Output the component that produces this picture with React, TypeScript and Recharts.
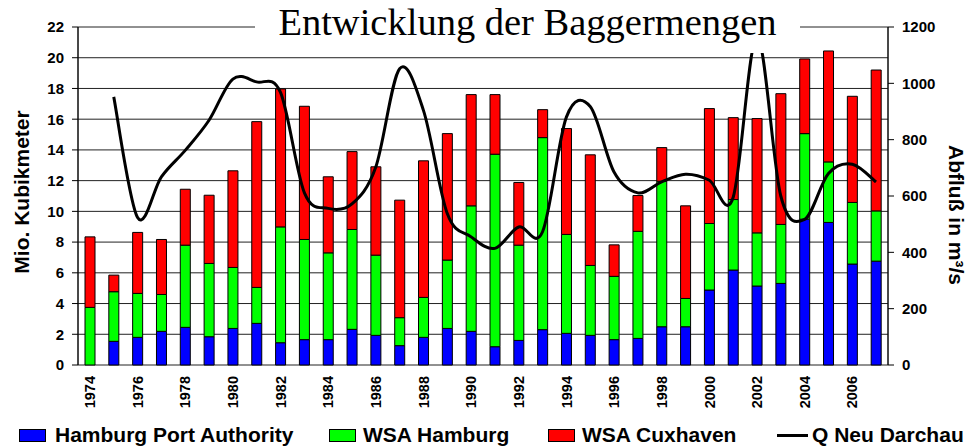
import React from "react"
import { Bar, CartesianGrid, ComposedChart, Legend, Line, XAxis, YAxis } from "recharts"

// Baggermengen in Mio. m³ (Anteile je Dienststelle), Abfluss Neu Darchau in m³/s
const years = [
    "1974", "1975", "1976", "1977", "1978", "1979", "1980", "1981", "1982", "1983", "1984",
    "1985", "1986", "1987", "1988", "1989", "1990", "1991", "1992", "1993", "1994", "1995",
    "1996", "1997", "1998", "1999", "2000", "2001", "2002", "2003", "2004", "2005", "2006", "2007",
]
const hpa = [
    0, 1.54, 1.8, 2.19, 2.45, 1.84, 2.38, 2.71, 1.45, 1.65, 1.65,
    2.32, 1.93, 1.26, 1.8, 2.38, 2.19, 1.19, 1.6, 2.3, 2.06, 1.93,
    1.65, 1.73, 2.49, 2.49, 4.88, 6.18, 5.14, 5.31, 9.49, 9.28, 6.57, 6.76,
]
const wsaHamburg = [
    3.75, 3.23, 2.86, 2.4, 5.35, 4.77, 3.97, 2.34, 7.54, 6.52, 5.65,
    6.5, 5.22, 1.82, 2.6, 4.45, 8.17, 12.53, 6.2, 12.5, 6.44, 4.55,
    4.12, 6.97, 9.47, 1.84, 4.33, 4.59, 3.46, 3.84, 5.57, 3.94, 4.01, 3.27,
]
const wsaCuxhaven = [
    4.59, 1.08, 3.97, 3.58, 3.64, 4.44, 6.29, 10.79, 8.98, 8.67, 4.95,
    5.07, 5.75, 7.65, 8.89, 8.23, 7.24, 3.88, 4.08, 1.82, 6.89, 7.2,
    2.05, 2.33, 2.19, 6.03, 7.48, 5.33, 7.44, 8.51, 4.86, 7.22, 6.91, 9.17,
]
const qNeuDarchau = [
    null, 952, 524, 668, 762, 869, 1015, 1005, 968, 612, 556,
    572, 703, 1052, 904, 538, 455, 414, 490, 473, 880, 918,
    685, 611, 650, 677, 656, 595, 1165, 600, 517, 680, 713, 650,
]

const leftTicks = [0, 2, 4, 6, 8, 10, 12, 14, 16, 18, 20, 22]
const rightTicks = [0, 200, 400, 600, 800, 1000, 1200]

const data = years.map((year, i) => ({
    year,
    hpa: hpa[i],
    wsaHamburg: wsaHamburg[i],
    wsaCuxhaven: wsaCuxhaven[i],
    q: qNeuDarchau[i],
}))

// grid axis: one tick on every category border, like the Excel original
const gridTicks = years.map((_, i) => i).concat(years.length)

const W = 977
const H = 448
const FONT = '"Liberation Sans", Arial, sans-serif'

// Excel-style smoothed line (Catmull-Rom)
function smoothCurve(context: any) {
    let pts: number[][] = []
    return {
        areaStart() {},
        areaEnd() {},
        lineStart() {
            pts = []
        },
        point(x: number, y: number) {
            pts.push([+x, +y])
        },
        lineEnd() {
            const n = pts.length
            if (!n) return
            context.moveTo(pts[0][0], pts[0][1])
            for (let i = 0; i < n - 1; i++) {
                const p0 = pts[i - 1] || pts[i]
                const p1 = pts[i]
                const p2 = pts[i + 1]
                const p3 = pts[i + 2] || p2
                context.bezierCurveTo(
                    p1[0] + (p2[0] - p0[0]) / 6,
                    p1[1] + (p2[1] - p0[1]) / 6,
                    p2[0] - (p3[0] - p1[0]) / 6,
                    p2[1] - (p3[1] - p1[1]) / 6,
                    p2[0],
                    p2[1]
                )
            }
        },
    }
}

function YearTick({ x, y, payload }: any) {
    return (
        <text
            x={x}
            y={y + 3}
            transform={`rotate(-90 ${x} ${y + 3})`}
            textAnchor="end"
            dy="0.36em"
            fontSize={14.5}
            fontWeight="bold"
            fontFamily={FONT}
            fill="#000"
        >
            {payload.value}
        </text>
    )
}

const legendItems = [
    { label: "Hamburg Port Authority", color: "#0000ff", left: 19, textLeft: 55 },
    { label: "WSA Hamburg", color: "#00ff00", left: 329, textLeft: 363 },
    { label: "WSA Cuxhaven", color: "#ff0000", left: 548, textLeft: 582 },
    { label: "Q Neu Darchau", color: null, left: 777, textLeft: 812 },
]

function LegendContent() {
    return (
        <div style={{ position: "relative", width: W, height: 24, fontFamily: FONT, fontWeight: "bold", fontSize: 21, color: "#000" }}>
            {legendItems.map((item) => (
                <React.Fragment key={item.label}>
                    {item.color ? (
                        <div
                            style={{
                                position: "absolute",
                                left: item.left,
                                top: 7,
                                width: 25,
                                height: 11,
                                background: item.color,
                                border: "1px solid #000",
                            }}
                        />
                    ) : (
                        <div style={{ position: "absolute", left: item.left, top: 12, width: 31, height: 3, background: "#000" }} />
                    )}
                    <div style={{ position: "absolute", left: item.textLeft, top: 1, lineHeight: "24px", whiteSpace: "nowrap" }}>
                        {item.label}
                    </div>
                </React.Fragment>
            ))}
        </div>
    )
}

const tickStyle = { fontSize: 15, fontWeight: "bold", fill: "#000", fontFamily: FONT }

export default function App() {
    return (
        <div style={{ position: "absolute", left: 0, top: 0, width: W, height: H, background: "#fff", fontFamily: FONT }}>
            <ComposedChart width={W} height={H} data={data} margin={{ top: 27, right: 0, bottom: 2, left: 0 }}>
                <XAxis
                    xAxisId="grid"
                    type="number"
                    domain={[0, years.length]}
                    ticks={gridTicks}
                    height={0}
                    tick={false}
                    tickSize={5}
                    axisLine={{ stroke: "#000" }}
                    tickLine={{ stroke: "#000" }}
                    allowDataOverflow
                />
                <XAxis
                    xAxisId="cat"
                    dataKey="year"
                    height={57}
                    axisLine={false}
                    tickLine={false}
                    interval={1}
                    tick={<YearTick />}
                />
                <YAxis
                    yAxisId="left"
                    domain={[0, 22]}
                    ticks={leftTicks}
                    width={78}
                    tickSize={6}
                    tickMargin={8}
                    axisLine={{ stroke: "#000" }}
                    tickLine={{ stroke: "#000" }}
                    tick={tickStyle}
                    label={{
                        content: () => (
                            <text
                                x={21}
                                y={192}
                                transform="rotate(-90 21 192)"
                                textAnchor="middle"
                                dy="0.36em"
                                fontSize={21}
                                fontWeight="bold"
                                fontFamily={FONT}
                                fill="#000"
                            >
                                Mio. Kubikmeter
                            </text>
                        ),
                    }}
                />
                <YAxis
                    yAxisId="right"
                    orientation="right"
                    domain={[0, 1200]}
                    ticks={rightTicks}
                    width={89}
                    tickSize={6}
                    tickMargin={8}
                    axisLine={{ stroke: "#000" }}
                    tickLine={{ stroke: "#000" }}
                    tick={tickStyle}
                    label={{
                        content: () => (
                            <text
                                x={957}
                                y={215}
                                transform="rotate(90 957 215)"
                                textAnchor="middle"
                                dy="0.36em"
                                fontSize={21}
                                fontWeight="bold"
                                fontFamily={FONT}
                                fill="#000"
                            >
                                Abfluß in m³/s
                            </text>
                        ),
                    }}
                />
                <CartesianGrid xAxisId="grid" yAxisId="left" stroke="#222" strokeWidth={1} />
                <Legend verticalAlign="bottom" content={<LegendContent />} />

                <Bar xAxisId="cat" yAxisId="left" dataKey="hpa" name="Hamburg Port Authority" stackId="a" barSize={10} fill="#0000ff" stroke="#000" strokeWidth={1} isAnimationActive={false} />
                <Bar xAxisId="cat" yAxisId="left" dataKey="wsaHamburg" name="WSA Hamburg" stackId="a" barSize={10} fill="#00ff00" stroke="#000" strokeWidth={1} isAnimationActive={false} />
                <Bar xAxisId="cat" yAxisId="left" dataKey="wsaCuxhaven" name="WSA Cuxhaven" stackId="a" barSize={10} fill="#ff0000" stroke="#000" strokeWidth={1} isAnimationActive={false} />
                <Line
                    xAxisId="cat"
                    yAxisId="right"
                    dataKey="q"
                    name="Q Neu Darchau"
                    type={smoothCurve as any}
                    stroke="#000"
                    strokeWidth={3}
                    dot={false}
                    activeDot={false}
                    isAnimationActive={false}
                />
            </ComposedChart>
            <div
                style={{
                    position: "absolute",
                    left: 255,
                    top: 0,
                    width: 545,
                    height: 53,
                    background: "#fff",
                    textAlign: "center",
                    fontFamily: '"Liberation Serif", "Times New Roman", serif',
                    fontSize: 38.5,
                    lineHeight: "38px",
                    paddingTop: 3,
                    boxSizing: "border-box",
                    color: "#000",
                }}
            >
                Entwicklung der Baggermengen
            </div>
        </div>
    )
}
